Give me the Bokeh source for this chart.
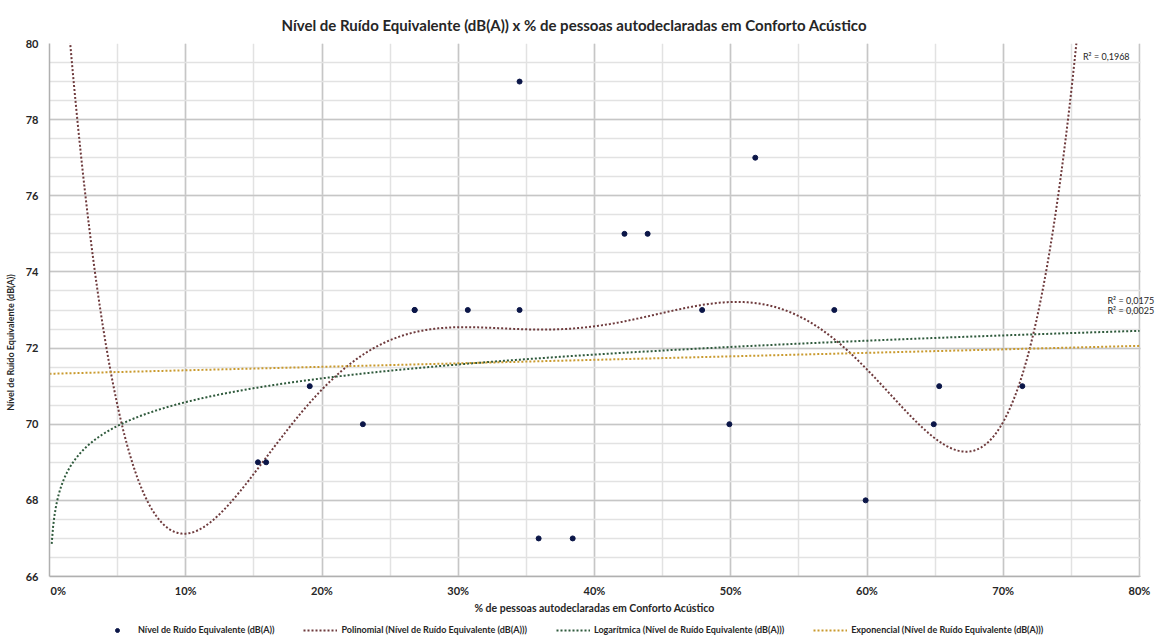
import numpy as np
from bokeh.plotting import figure
from bokeh.models import (Legend, LegendItem, Label, SingleIntervalTicker, BoxAnnotation,
                          Range1d, ColumnDataSource)
from bokeh.core.properties import value
from bokeh.embed import file_html
from bokeh.resources import INLINE

pct_conforto = [15.3, 15.9, 19.1, 23.0, 26.8, 26.8, 30.7, 34.5, 34.5, 35.9, 38.4,
                42.2, 43.9, 47.9, 49.9, 51.8, 57.6, 59.9, 64.9, 65.3, 71.4]
leq_dba = [69, 69, 71, 70, 73, 73, 73, 73, 79, 67, 67,
           75, 75, 73, 70, 77, 73, 68, 70, 71, 71]
x_tick_vals = [0.0, 0.1, 0.2, 0.3, 0.4, 0.5, 0.6, 0.7, 0.8]
x_tick_labels = ["0%", "10%", "20%", "30%", "40%", "50%", "60%", "70%", "80%"]
r2_poly = "R² = 0,1968"
r2_log = "R² = 0,0175"
r2_exp = "R² = 0,0025"
title_text = "Nível de Ruído Equivalente (dB(A)) x % de pessoas autodeclaradas em Conforto Acústico"
x_title = "% de pessoas autodeclaradas em Conforto Acústico"
y_title = "Nível de Ruído Equivalente (dB(A))"
series_name = "Nível de Ruído Equivalente (dB(A))"
legend_names = [series_name,
                "Polinomial (" + series_name + ")",
                "Logarítmica (" + series_name + ")",
                "Exponencial (" + series_name + ")"]

FONT = "Lato"
TXT = "#262626"

x = np.array(pct_conforto) / 100.0
y = np.array(leq_dba, dtype=float)

# trendlines computed the way Excel does (order-6 polynomial, logarithmic, exponential)
poly = np.polyfit(x, y, 6)
xs = np.linspace(0.0, 0.8, 800)
ys_poly = np.polyval(poly, xs)
ys_poly = np.where(ys_poly > 80.6, np.nan, ys_poly)
a_log, b_log = np.polyfit(np.log(x), y, 1)
xs_log = np.linspace(0.0016, 0.8, 800)
ys_log = a_log * np.log(xs_log) + b_log
b_exp, lnc = np.polyfit(x, np.log(y), 1)
ys_exp = np.exp(lnc) * np.exp(b_exp * xs)

# frame reaches the bottom of the page so that axis texts and legend are drawn inside it
PX_PER_DB = 533 / 14.0
FH = 598
Y0 = 80 - FH / PX_PER_DB
FW = 1107
X_END = 0.8 * FW / 1090.0
p = figure(frame_width=FW, frame_height=FH, x_range=Range1d(0, X_END), y_range=Range1d(Y0, 80),
           output_backend="svg", toolbar_location=None, x_axis_location=None,
           min_border_left=49, min_border_right=0, min_border_top=43, min_border_bottom=0)
p.outline_line_color = None

xt = SingleIntervalTicker(interval=0.1, num_minor_ticks=2)
yt = SingleIntervalTicker(interval=2, num_minor_ticks=4)
p.yaxis.ticker = yt
p.xgrid.ticker = xt
p.ygrid.ticker = yt
for g in (p.xgrid, p.ygrid):
    g.grid_line_color = "#c6c6c6"
    g.grid_line_width = 1.5
    g.minor_grid_line_color = "#e2e2e2"
    g.minor_grid_line_width = 1.5
# blank strips: right of 80 % and below 66 dB(A)
p.add_layout(BoxAnnotation(left=0.8 + 1.2 / 1362.5, right=X_END + 0.05, fill_color="white",
                           fill_alpha=1, line_color=None, level="underlay"))
p.add_layout(BoxAnnotation(left=-0.05, right=X_END + 0.05, bottom=Y0 - 1, top=66 - 0.015,
                           fill_color="white", fill_alpha=1, line_color=None, level="underlay"))

ax = p.yaxis[0]
ax.bounds = (66, 80)
ax.axis_line_color = "#b0b0b0"
ax.axis_line_width = 1.5
ax.major_tick_line_color = None
ax.minor_tick_line_color = None
ax.major_tick_out = 0
ax.minor_tick_out = 0
ax.major_label_text_font = FONT
ax.major_label_text_font_style = "bold"
ax.major_label_text_font_size = "11px"
ax.major_label_text_color = TXT
ax.major_label_standoff = 11
ax.axis_label = y_title
ax.axis_label_text_font = FONT
ax.axis_label_text_font_style = "bold"
ax.axis_label_text_font_size = "9px"
ax.axis_label_text_color = TXT
ax.axis_label_standoff = 7

# x axis: line at 66, tick labels and title
p.segment(x0=[0], y0=[66], x1=[0.8], y1=[66], line_color="#b0b0b0", line_width=1.5)
y_ticklab = 80 - (590 - 42.7) / PX_PER_DB
y_xtitle = 80 - (607 - 42.7) / PX_PER_DB
tick_style = dict(text_baseline="middle", text_font=value(FONT), text_font_style="bold",
                  text_font_size="11px", text_color=TXT)
# first label sits on the frame edge: keep it whole by anchoring it on its left
p.text(x=x_tick_vals[:1], y=[y_ticklab], text=x_tick_labels[:1], text_align="left",
       x_offset=1, **tick_style)
p.text(x=x_tick_vals[1:], y=[y_ticklab] * (len(x_tick_vals) - 1), text=x_tick_labels[1:],
       text_align="center", **tick_style)
p.add_layout(Label(x=0.4, y=y_xtitle, text=x_title, text_align="center", text_baseline="middle",
                   text_font=FONT, text_font_style="bold", text_font_size="10.5px",
                   text_color=TXT))

p.title.text = title_text
p.title.align = "left"
p.title.offset = 232
p.title.text_font = FONT
p.title.text_font_style = "bold"
p.title.text_font_size = "15px"
p.title.text_color = TXT
p.title.standoff = 20

r_poly = p.line(xs, ys_poly, line_color="#6e3a3c", line_width=2, line_dash="2 2")
r_log = p.line(xs_log, ys_log, line_color="#2f5a3c", line_width=2, line_dash="2 2")
r_exp = p.line(xs, ys_exp, line_color="#c99a2e", line_width=2, line_dash="2 2")
src = ColumnDataSource(dict(x=x, y=y))
r_pts = p.scatter("x", "y", source=src, size=5, fill_color="#0b1648", line_color="#0b1648")

p.add_layout(Label(x=0.7585, y=79.65, text=r2_poly, text_align="left", text_baseline="middle",
                   text_font=FONT, text_font_size="9px", text_color=TXT))
p.add_layout(Label(x=0.7765, y=73.24, text=r2_log, text_align="left", text_baseline="middle",
                   text_font=FONT, text_font_size="9px", text_color=TXT))
p.add_layout(Label(x=0.7765, y=73.0, text=r2_exp, text_align="left", text_baseline="middle",
                   text_font=FONT, text_font_size="9px", text_color=TXT))

legend = Legend(items=[LegendItem(label=n, renderers=[r]) for n, r in
                       zip(legend_names, [r_pts, r_poly, r_log, r_exp])],
                location=(51, 6), orientation="horizontal", border_line_color=None,
                background_fill_alpha=0, padding=0, margin=0, spacing=29,
                glyph_width=34, glyph_height=10, label_height=10, label_standoff=4,
                label_text_font=FONT, label_text_font_style="bold",
                label_text_font_size="9px", label_text_color=TXT)
p.add_layout(legend)

open("out.html", "w").write(file_html(p, INLINE))
